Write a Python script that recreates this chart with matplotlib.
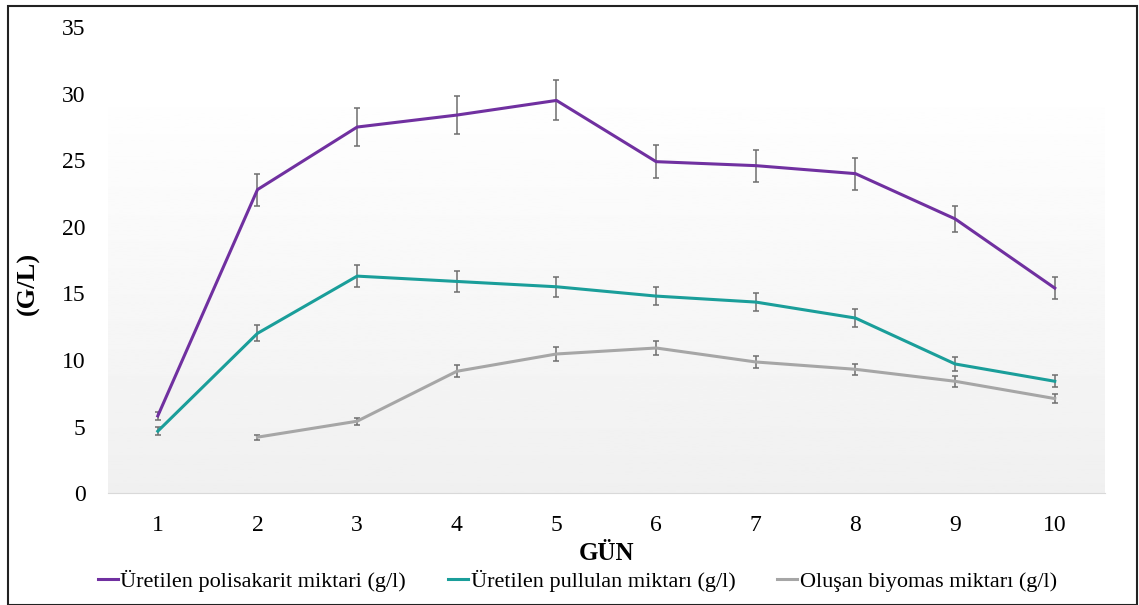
import numpy as np
import matplotlib.pyplot as plt
from matplotlib.patches import Rectangle

plt.rcParams['font.family'] = ['Liberation Serif', 'DejaVu Serif']

gun = [1, 2, 3, 4, 5, 6, 7, 8, 9, 10]

polisakarit = [5.8, 22.8, 27.5, 28.4, 29.5, 24.9, 24.6, 24.0, 20.6, 15.4]
polisakarit_err = [0.3, 1.2, 1.4, 1.4, 1.5, 1.25, 1.2, 1.2, 1.0, 0.8]

pullulan = [4.65, 12.0, 16.3, 15.9, 15.5, 14.8, 14.35, 13.15, 9.7, 8.4]
pullulan_err = [0.3, 0.6, 0.8, 0.8, 0.75, 0.7, 0.7, 0.65, 0.5, 0.45]

biyomas_gun = [2, 3, 4, 5, 6, 7, 8, 9, 10]
biyomas = [4.2, 5.4, 9.15, 10.45, 10.9, 9.85, 9.3, 8.4, 7.1]
biyomas_err = [0.2, 0.25, 0.45, 0.5, 0.5, 0.45, 0.4, 0.4, 0.35]

etiketler = ['Üretilen polisakarit miktari (g/l)',
             'Üretilen pullulan miktarı (g/l)',
             'Oluşan biyomas miktarı (g/l)']
renkler = ['#7030a0', '#1a9e9a', '#a6a6a6']

fig = plt.figure(figsize=(11.39, 6.05), dpi=100)
ax = fig.add_axes([0.0948, 0.185, 0.875, 0.77])

# gradient arka plan
grad = np.linspace(0.94, 1.0, 256).reshape(-1, 1)
ax.imshow(grad, cmap='gray', vmin=0, vmax=1, aspect='auto', origin='lower',
          extent=[0.5, 10.52, 0, 31], zorder=0)

seriler = [(gun, polisakarit, polisakarit_err),
           (gun, pullulan, pullulan_err),
           (biyomas_gun, biyomas, biyomas_err)]
for (xs, ys, es), c, lab in zip(seriler, renkler, etiketler):
    ax.errorbar(xs, ys, yerr=es, color=c, lw=2.2, ecolor='#6e6e6e',
                elinewidth=1.1, capsize=2.5, capthick=1.1, label=lab, zorder=3)

ax.set_xlim(0.5, 10.5)
ax.set_ylim(0, 35)
ax.set_xticks(gun)
ax.set_yticks(range(0, 36, 5))
ax.tick_params(length=0, labelsize=17)
ax.tick_params(axis='y', pad=16)
ax.tick_params(axis='x', pad=16)
for s in ['top', 'right', 'left']:
    ax.spines[s].set_visible(False)
ax.spines['bottom'].set_color('#d9d9d9')
ax.set_ylabel('(G/L)', fontsize=19, fontweight='bold', labelpad=14)
ax.yaxis.set_label_coords(-0.068, 0.45)
ax.set_xlabel('GÜN', fontsize=18, fontweight='bold', labelpad=4)

handles = [plt.Line2D([], [], color=c, lw=2.2) for c in renkler]
fig.legend(handles, etiketler, loc='center', bbox_to_anchor=(0.507, 0.04), ncol=3,
           frameon=False, fontsize=16, handlelength=0.9, handletextpad=0.1,
           columnspacing=1.9)

fig.patches.append(Rectangle((0.007, 0.0), 0.991, 0.99, transform=fig.transFigure,
                             fill=False, edgecolor='#222222', lw=1.5))

fig.savefig('out.png', dpi=100)
